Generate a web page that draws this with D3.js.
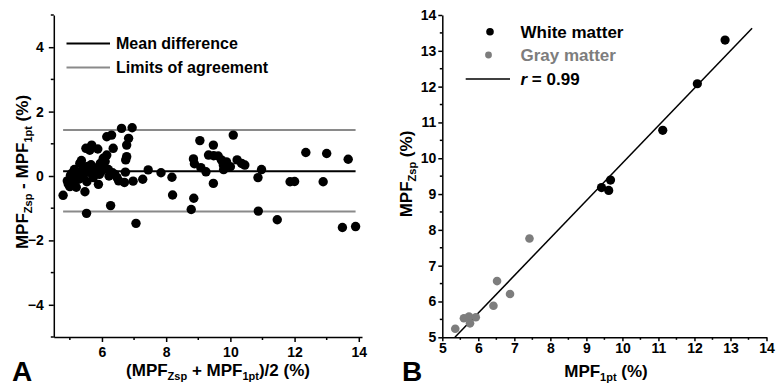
<!DOCTYPE html>
<html>
<head>
<meta charset="utf-8">
<script src="https://cdn.jsdelivr.net/npm/d3@7"></script>
<style>
  body { margin: 0; background: #fff; }
  svg { display: block; font-family: "Liberation Sans", Arial, sans-serif; font-weight: bold; }
</style>
</head>
<body>
<div id="chart"></div>
<script>
// Panel A: Bland-Altman, mean of both methods vs difference
const baMean = [4.79, 4.92, 4.95, 5.00, 5.02, 5.06, 5.10, 5.14, 5.18, 5.20, 5.25, 5.28, 5.31, 5.36, 5.38,
    5.42, 5.47, 5.50, 5.52, 5.53, 5.55, 5.58, 5.62, 5.66, 5.68, 5.70, 5.73, 5.78, 5.87, 5.89, 5.92, 5.95,
    5.98, 6.04, 6.06, 6.10, 6.15, 6.15, 6.20, 6.22, 6.27, 6.30, 6.35, 6.33, 6.40, 6.47, 6.52, 6.61, 6.70,
    6.73, 6.74, 6.77, 6.77, 6.83, 6.94, 6.97, 7.06, 7.27, 7.44, 7.84, 8.18, 8.20, 8.78, 8.86, 8.85, 8.88,
    9.05, 9.08, 9.24, 9.32, 9.47, 9.47, 9.48, 9.62, 9.72, 9.78, 9.79, 9.88, 10.00, 10.09, 10.21, 10.35,
    10.45, 10.86, 10.97, 10.87, 11.46, 11.86, 12.00, 12.35, 12.89, 13.00, 13.49, 13.67, 13.90];
const baDiff = [-0.60, -0.15, -0.25, -0.33, 0.02, 0.08, -0.20, 0.20, -0.05, -0.35, 0.10, -0.10, 0.39, 0.48, 0.15,
    -0.05, -0.49, 0.86, -1.16, -0.18, 0.30, 0.12, 0.80, 0.35, 0.96, 0.05, -0.05, 0.25, 0.84, -0.26, 0.05, 0.39,
    0.15, 0.55, 0.25, 0.45, 1.22, 0.65, 0.20, 0.00, -0.92, 1.27, 0.86, 0.10, 0.05, -0.05, -0.15, 1.48, -0.20,
    0.12, 0.50, 0.60, 0.96, 1.17, 1.50, -0.16, -1.47, -0.10, 0.19, 0.10, -0.04, -0.59, -1.04, -0.69, 0.53, 0.38,
    1.10, 0.26, 0.13, 0.65, 0.96, -0.23, 0.63, 0.62, 0.50, 0.34, 0.20, 0.44, 0.29, 1.27, 0.50, 0.39,
    0.34, -0.05, 0.20, -1.09, -1.36, -0.18, -0.17, 0.73, -0.18, 0.70, -1.60, 0.52, -1.57];
const meanDifference = 0.15;
const limitsOfAgreement = [-1.10, 1.43];
const aXTicks = [6, 8, 10, 12, 14];
const aXMinor = [5, 7, 9, 11, 13];
const aYTicks = [-4, -2, 0, 2, 4];
const aYMinor = [-5, -3, -1, 1, 3, 5];

// Panel B: MPF_Zsp vs MPF_1pt
const wmX = [12.85, 12.08, 11.12, 9.42, 9.67, 9.62];
const wmY = [13.30, 12.08, 10.78, 9.18, 9.39, 9.10];
const gmX = [7.42, 6.52, 6.88, 6.42, 5.36, 5.60, 5.74, 5.77, 5.93];
const gmY = [7.76, 6.57, 6.21, 5.88, 5.24, 5.53, 5.58, 5.39, 5.56];
const fitSlope = 1.046;
const fitIntercept = -0.597;
const fitRange = [5.35, 13.6];
const bTicks = [5, 6, 7, 8, 9, 10, 11, 12, 13, 14];
const bMinor = [5.5, 6.5, 7.5, 8.5, 9.5, 10.5, 11.5, 12.5, 13.5];

const width = 776;
const height = 391;
const gray = "#7d7d7d";

const svg = d3.select("#chart")
    .append("svg")
    .attr("width", width)
    .attr("height", height);

svg.append("rect").attr("width", width).attr("height", height).attr("fill", "#fff");

function styleAxis(g) {
    g.selectAll("path, line").attr("stroke", "#000").attr("stroke-width", 1.5);
    g.selectAll("text").attr("font-size", 14).attr("font-weight", "bold").attr("fill", "#000")
        .attr("font-family", "'Liberation Sans', Arial, sans-serif");
}

function subTitle(g, parts) {
    // parts: [text, isSub, dy]
    const t = g.append("text").attr("text-anchor", "middle").attr("font-size", 17);
    parts.forEach(p => {
        if (p[1]) {
            t.append("tspan").attr("font-size", 11).attr("dy", 4).text(p[0]);
        } else {
            t.append("tspan").attr("dy", p[2] || 0).text(p[0]);
        }
    });
    return t;
}

// ---------- Panel A ----------
const xA = d3.scaleLinear().domain([4.5, 14.1]).range([53.8, 362]);
const yA = d3.scaleLinear().domain([-5, 5]).range([337, 15]);

const gA = svg.append("g");

gA.append("g")
    .attr("transform", "translate(0," + yA(-5) + ")")
    .call(d3.axisBottom(xA).tickValues(aXTicks).tickSize(5).tickSizeOuter(0).tickPadding(5).tickFormat(d3.format("d")))
    .call(styleAxis)
    .call(g => g.selectAll(".minor").data(aXMinor).enter().append("line")
        .attr("class", "minor").attr("x1", d => xA(d)).attr("x2", d => xA(d))
        .attr("y1", 0).attr("y2", 3).attr("stroke", "#000").attr("stroke-width", 1.5));

gA.append("g")
    .attr("transform", "translate(" + xA(4.5) + ",0)")
    .call(d3.axisLeft(yA).tickValues(aYTicks).tickSize(5).tickSizeOuter(0).tickPadding(5).tickFormat(d3.format("d")))
    .call(styleAxis)
    .call(g => g.selectAll(".minor").data(aYMinor).enter().append("line")
        .attr("class", "minor").attr("y1", d => yA(d)).attr("y2", d => yA(d))
        .attr("x1", 0).attr("x2", -3).attr("stroke", "#000").attr("stroke-width", 1.5));

const aExtent = d3.extent(baMean);

gA.selectAll(".loa")
    .data(limitsOfAgreement)
    .enter().append("line")
    .attr("x1", xA(aExtent[0])).attr("x2", xA(aExtent[1]))
    .attr("y1", d => yA(d)).attr("y2", d => yA(d))
    .attr("stroke", "#8a8a8a").attr("stroke-width", 2);

gA.append("line")
    .attr("x1", xA(aExtent[0])).attr("x2", xA(aExtent[1]))
    .attr("y1", yA(meanDifference)).attr("y2", yA(meanDifference))
    .attr("stroke", "#000").attr("stroke-width", 2);

gA.selectAll(".dot")
    .data(baMean.map((m, i) => [m, baDiff[i]]))
    .enter().append("circle")
    .attr("cx", d => xA(d[0]))
    .attr("cy", d => yA(d[1]))
    .attr("r", 4.7)
    .attr("fill", "#000");

// legend A
const legA = [["Mean difference", "#000"], ["Limits of agreement", "#8a8a8a"]];
legA.forEach((l, i) => {
    const y = 43.5 + i * 24;
    gA.append("line").attr("x1", 66.5).attr("x2", 110).attr("y1", y).attr("y2", y)
        .attr("stroke", l[1]).attr("stroke-width", 2);
    gA.append("text").attr("x", 116).attr("y", y + 5.6).attr("font-size", 16).text(l[0]);
});

subTitle(gA, [["(MPF"], ["Zsp", true], [" + MPF", false, -4], ["1pt", true], [")/2 (%)", false, -4]])
    .attr("transform", "translate(218,376)");

subTitle(gA, [["MPF"], ["Zsp", true], [" - MPF", false, -4], ["1pt", true], [" (%)", false, -4]])
    .attr("transform", "translate(28,172) rotate(-90)");

gA.append("text").attr("x", 12).attr("y", 381).attr("font-size", 28).text("A");

// ---------- Panel B ----------
const xB = d3.scaleLinear().domain([5, 14]).range([442.3, 766.5]);
const yB = d3.scaleLinear().domain([5, 14]).range([337.3, 15]);

const gB = svg.append("g");

gB.append("g")
    .attr("transform", "translate(0," + yB(5) + ")")
    .call(d3.axisBottom(xB).tickValues(bTicks).tickSize(4).tickSizeOuter(0).tickPadding(2).tickFormat(d3.format("d")))
    .call(styleAxis)
    .call(g => g.selectAll(".minor").data(bMinor).enter().append("line")
        .attr("class", "minor").attr("x1", d => xB(d)).attr("x2", d => xB(d))
        .attr("y1", 0).attr("y2", 2.5).attr("stroke", "#000").attr("stroke-width", 1.5));

gB.append("g")
    .attr("transform", "translate(" + xB(5) + ",0)")
    .call(d3.axisLeft(yB).tickValues(bTicks).tickSize(4).tickSizeOuter(0).tickPadding(2).tickFormat(d3.format("d")))
    .call(styleAxis)
    .call(g => g.selectAll(".minor").data(bMinor).enter().append("line")
        .attr("class", "minor").attr("y1", d => yB(d)).attr("y2", d => yB(d))
        .attr("x1", 0).attr("x2", -2.5).attr("stroke", "#000").attr("stroke-width", 1.5));

gB.append("path")
    .datum(fitRange)
    .attr("d", d3.line().x(d => xB(d)).y(d => yB(fitSlope * d + fitIntercept)))
    .attr("stroke", "#000").attr("stroke-width", 1.5).attr("fill", "none");

gB.selectAll(".gm")
    .data(gmX.map((x, i) => [x, gmY[i]]))
    .enter().append("circle")
    .attr("cx", d => xB(d[0]))
    .attr("cy", d => yB(d[1]))
    .attr("r", 4.3)
    .attr("fill", gray);

gB.selectAll(".wm")
    .data(wmX.map((x, i) => [x, wmY[i]]))
    .enter().append("circle")
    .attr("cx", d => xB(d[0]))
    .attr("cy", d => yB(d[1]))
    .attr("r", 4.6)
    .attr("fill", "#000");

// legend B
gB.append("circle").attr("cx", 490).attr("cy", 31.7).attr("r", 3.8).attr("fill", "#000");
gB.append("circle").attr("cx", 488.5).attr("cy", 55).attr("r", 3.4).attr("fill", gray);
gB.append("line").attr("x1", 465.7).attr("x2", 510).attr("y1", 79).attr("y2", 79)
    .attr("stroke", "#000").attr("stroke-width", 1.5);
gB.append("text").attr("x", 520.5).attr("y", 37.5).attr("font-size", 17).text("White matter");
gB.append("text").attr("x", 520.5).attr("y", 61).attr("font-size", 17).attr("fill", gray).text("Gray matter");
const rt = gB.append("text").attr("x", 520.5).attr("y", 85).attr("font-size", 17);
rt.append("tspan").attr("font-style", "italic").text("r");
rt.append("tspan").text(" = 0.99");

subTitle(gB, [["MPF"], ["1pt", true], [" (%)", false, -4]])
    .attr("transform", "translate(606,377)");

subTitle(gB, [["MPF"], ["Zsp", true], [" (%)", false, -4]])
    .attr("transform", "translate(412,174) rotate(-90)");

gB.append("text").attr("x", 402).attr("y", 381).attr("font-size", 28).text("B");
</script>
</body>
</html>
